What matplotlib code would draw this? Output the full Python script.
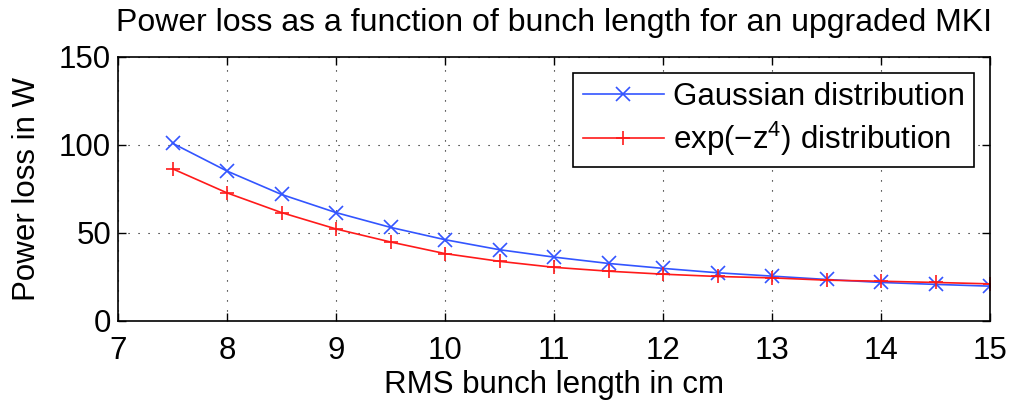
import matplotlib
matplotlib.use("Agg")
import matplotlib.pyplot as plt

plt.rcParams['font.family'] = ['Liberation Sans', 'DejaVu Sans']
plt.rcParams['mathtext.fontset'] = 'custom'
plt.rcParams['mathtext.rm'] = 'Liberation Sans'

bunch_length = [7.5, 8, 8.5, 9, 9.5, 10, 10.5, 11, 11.5, 12, 12.5, 13, 13.5, 14, 14.5, 15]
gaussian = [101, 85.2, 71.9, 61.6, 53.2, 46.2, 40.5, 36.3, 32.7, 29.9, 27.4, 25.5, 23.6, 21.9, 20.8, 19.8]
exp_z4 = [86.5, 72.8, 61.6, 52.3, 44.9, 38.3, 33.9, 30.5, 28.3, 26.6, 25.3, 24.5, 23.2, 22.6, 21.9, 21.1]
xticks = [7, 8, 9, 10, 11, 12, 13, 14, 15]
yticks = [0, 50, 100, 150]

FS = 22.5

fig = plt.figure(figsize=(10.09, 4.01), dpi=100)
ax = fig.add_axes([118/1009, 1 - 321/401, 872/1009, 264/401])

ax.plot(bunch_length, gaussian, color='#3355ff', marker='x', markersize=9.5, markeredgewidth=1.2,
        linewidth=1.2, label='Gaussian distribution')
ax.plot(bunch_length, exp_z4, color='#ff1a1a', marker='+', markersize=10.5, markeredgewidth=1.2,
        linewidth=1.2, label=r'exp($-$z$^4$) distribution')

ax.set_xlim(7, 15)
ax.set_ylim(0, 150)
ax.set_xticks(xticks)
ax.set_yticks(yticks)
ax.tick_params(direction='in', top=True, right=True, labelsize=FS, length=6, width=1)
ax.tick_params(axis='x', pad=11)
ax.tick_params(axis='y', pad=5)
ax.grid(True, color='black', linestyle=(0, (1, 8)), linewidth=0.8)
for s in ax.spines.values():
    s.set_linewidth(1.2)

ax.set_xlabel('RMS bunch length in cm', fontsize=FS, labelpad=3)
ax.set_ylabel('Power loss in W', fontsize=FS, labelpad=12)
ax.set_title('Power loss as a function of bunch length for an upgraded MKI', fontsize=23, pad=19)

leg = ax.legend(loc='upper right', fontsize=FS, fancybox=False, edgecolor='black',
                framealpha=1, borderaxespad=0.5, handlelength=2.6, handletextpad=0.3,
                labelspacing=0.25, borderpad=0.3)
leg.get_frame().set_linewidth(1.2)

fig.savefig('out.png', dpi=100)
